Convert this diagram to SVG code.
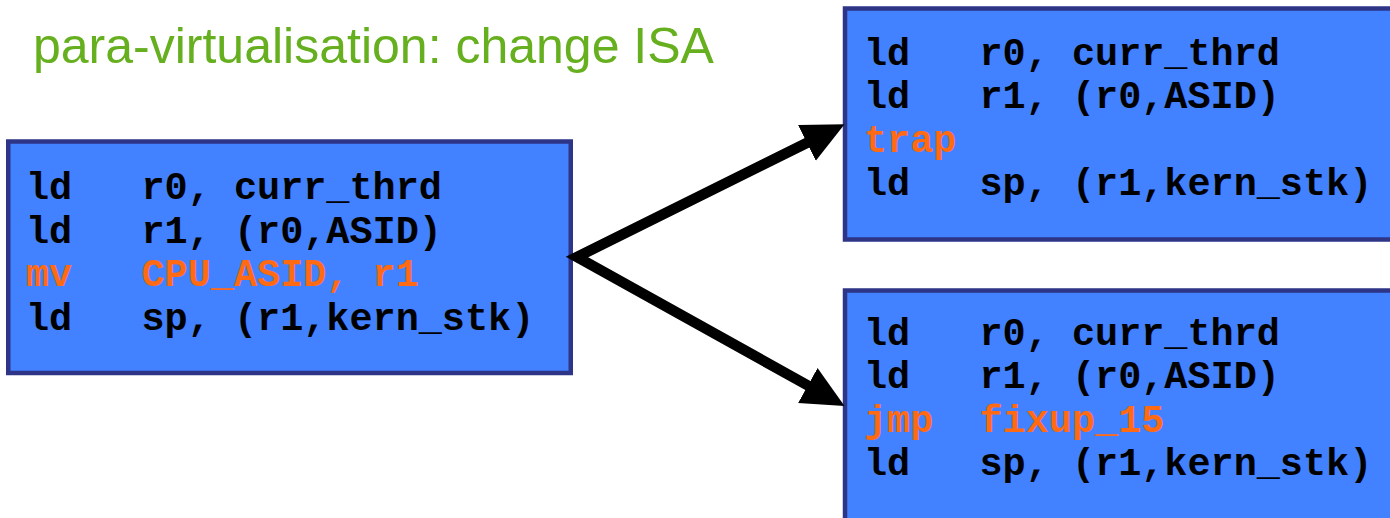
<svg xmlns="http://www.w3.org/2000/svg" width="1390" height="518" viewBox="0 0 1390 518">
  <style>
    .box { fill: #4281FF; stroke: #2E3587; stroke-width: 4.5; }
    .code { font-family: "Liberation Mono", "Courier New", monospace; font-weight: bold; font-size: 38.5px; fill: #000000; white-space: pre; }
    .hl { fill: #FF6A13; }
    .title { font-family: "Liberation Sans", Arial, sans-serif; font-size: 50px; fill: #66AF1F; }
    .conn { fill: none; stroke: #000000; stroke-width: 10.5; stroke-linejoin: miter; stroke-miterlimit: 10; }
  </style>
  <defs>
    <marker id="arrow" viewBox="0 0 4 4" refX="0.4" refY="2" markerWidth="4" markerHeight="4" markerUnits="strokeWidth" orient="auto-start-reverse">
      <path d="M0,0.1 L4,2 L0,3.9 Z" fill="#000000"/>
    </marker>
  </defs>

  <rect width="1390" height="518" fill="#FFFFFF"/>

  <text class="title" x="33" y="63">para-virtualisation: change ISA</text>

  <!-- original instruction sequence -->
  <g id="node-original">
    <rect class="box" x="8.25" y="141.5" width="562.5" height="231.5"/>
    <text class="code" x="26" y="199" xml:space="preserve">ld   r0, curr_thrd</text>
    <text class="code" x="26" y="242.5" xml:space="preserve">ld   r1, (r0,ASID)</text>
    <text class="code hl" x="26" y="286" xml:space="preserve">mv   CPU_ASID, r1</text>
    <text class="code" x="26" y="329.5" xml:space="preserve">ld   sp, (r1,kern_stk)</text>
  </g>

  <!-- variant replacing the privileged move with a trap -->
  <g id="node-trap">
    <rect class="box" x="845" y="8.5" width="600" height="231"/>
    <text class="code" x="864" y="64.5" xml:space="preserve">ld   r0, curr_thrd</text>
    <text class="code" x="864" y="108" xml:space="preserve">ld   r1, (r0,ASID)</text>
    <text class="code hl" x="864" y="151.5" xml:space="preserve">trap</text>
    <text class="code" x="864" y="195" xml:space="preserve">ld   sp, (r1,kern_stk)</text>
  </g>

  <!-- variant replacing the privileged move with a jump to fixup code -->
  <g id="node-fixup">
    <rect class="box" x="845" y="290.5" width="600" height="300"/>
    <text class="code" x="864" y="344.5" xml:space="preserve">ld   r0, curr_thrd</text>
    <text class="code" x="864" y="388" xml:space="preserve">ld   r1, (r0,ASID)</text>
    <text class="code hl" x="864" y="431.5" xml:space="preserve">jmp  fixup_15</text>
    <text class="code" x="864" y="475" xml:space="preserve">ld   sp, (r1,kern_stk)</text>
  </g>

  <g id="connectors">
    <path class="conn" d="M810.7,141 L577,257 L811.5,387.5" marker-start="url(#arrow)" marker-end="url(#arrow)"/>
  </g>
</svg>
